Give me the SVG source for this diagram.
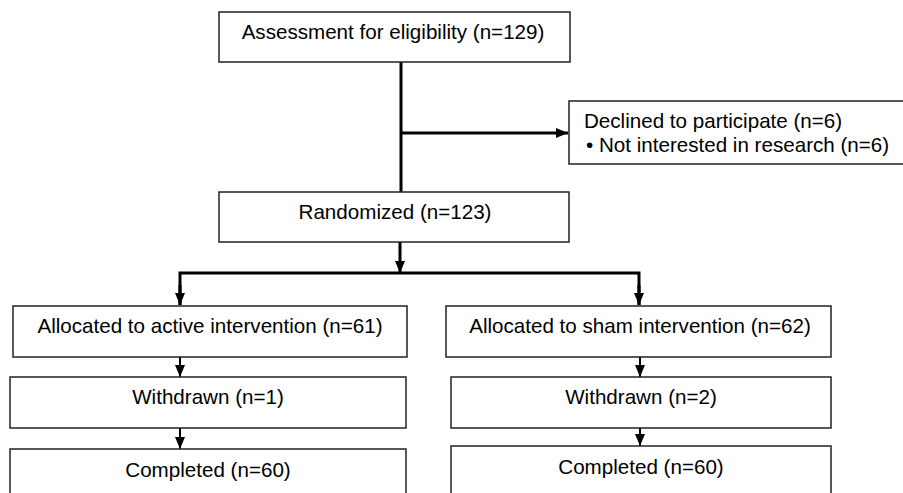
<svg xmlns="http://www.w3.org/2000/svg" width="903" height="493" viewBox="0 0 903 493">
<defs>
<style>
.box{fill:#fff;stroke:#222;stroke-width:1.5}
.t{font-family:"Liberation Sans",Arial,sans-serif;font-size:20.6px;fill:#000}
.c{text-anchor:middle}
.ln{fill:none;stroke:#000;stroke-width:3}
.ln2{fill:none;stroke:#000;stroke-width:2}
</style>
<marker id="ah" viewBox="0 0 12 10" refX="12" refY="5" markerWidth="12" markerHeight="10" markerUnits="userSpaceOnUse" orient="auto">
<path d="M0,0 L12,5 L0,10 Z" fill="#000"/>
</marker>
</defs>
<rect width="903" height="493" fill="#fff"/>
<g id="connectors">
<line class="ln" x1="401" y1="62" x2="401" y2="192"/>
<line class="ln" x1="401" y1="133" x2="568" y2="133" marker-end="url(#ah)"/>
<line class="ln" x1="400" y1="242" x2="400" y2="273" marker-end="url(#ah)"/>
<polyline class="ln" points="180,305 180,273 639,273 639,305"/>
<line class="ln" x1="180" y1="285" x2="180" y2="305" marker-end="url(#ah)"/>
<line class="ln" x1="639" y1="285" x2="639" y2="305" marker-end="url(#ah)"/>
<line class="ln2" x1="180" y1="357" x2="180" y2="377" marker-end="url(#ah)"/>
<line class="ln2" x1="180" y1="428" x2="180" y2="449" marker-end="url(#ah)"/>
<line class="ln2" x1="640" y1="357" x2="640" y2="377" marker-end="url(#ah)"/>
<line class="ln2" x1="640" y1="428" x2="640" y2="446" marker-end="url(#ah)"/>
</g>
<g id="assessment">
<rect class="box" x="219" y="12" width="351" height="50"/>
<text class="t c" x="393" y="39">Assessment for eligibility (n=129)</text>
</g>
<g id="declined">
<rect class="box" x="569" y="101" width="345" height="63"/>
<text class="t" x="584" y="128">Declined to participate (n=6)</text>
<text class="t" x="586" y="152">•  Not interested in research (n=6)</text>
</g>
<g id="randomized">
<rect class="box" x="219" y="192" width="350" height="50"/>
<text class="t c" x="395" y="219">Randomized (n=123)</text>
</g>
<g id="alloc-active">
<rect class="box" x="13" y="306" width="394" height="51"/>
<text class="t c" x="210" y="333">Allocated to active intervention (n=61)</text>
</g>
<g id="alloc-sham">
<rect class="box" x="446" y="306" width="385" height="51"/>
<text class="t c" x="640" y="333">Allocated to sham intervention (n=62)</text>
</g>
<g id="withdrawn-active">
<rect class="box" x="10" y="377" width="396" height="51"/>
<text class="t c" x="208" y="404">Withdrawn (n=1)</text>
</g>
<g id="withdrawn-sham">
<rect class="box" x="451" y="377" width="380" height="51"/>
<text class="t c" x="641" y="404">Withdrawn (n=2)</text>
</g>
<g id="completed-active">
<rect class="box" x="10" y="449" width="396" height="60"/>
<text class="t c" x="208" y="477">Completed (n=60)</text>
</g>
<g id="completed-sham">
<rect class="box" x="451" y="446" width="380" height="60"/>
<text class="t c" x="641" y="474">Completed (n=60)</text>
</g>
</svg>
